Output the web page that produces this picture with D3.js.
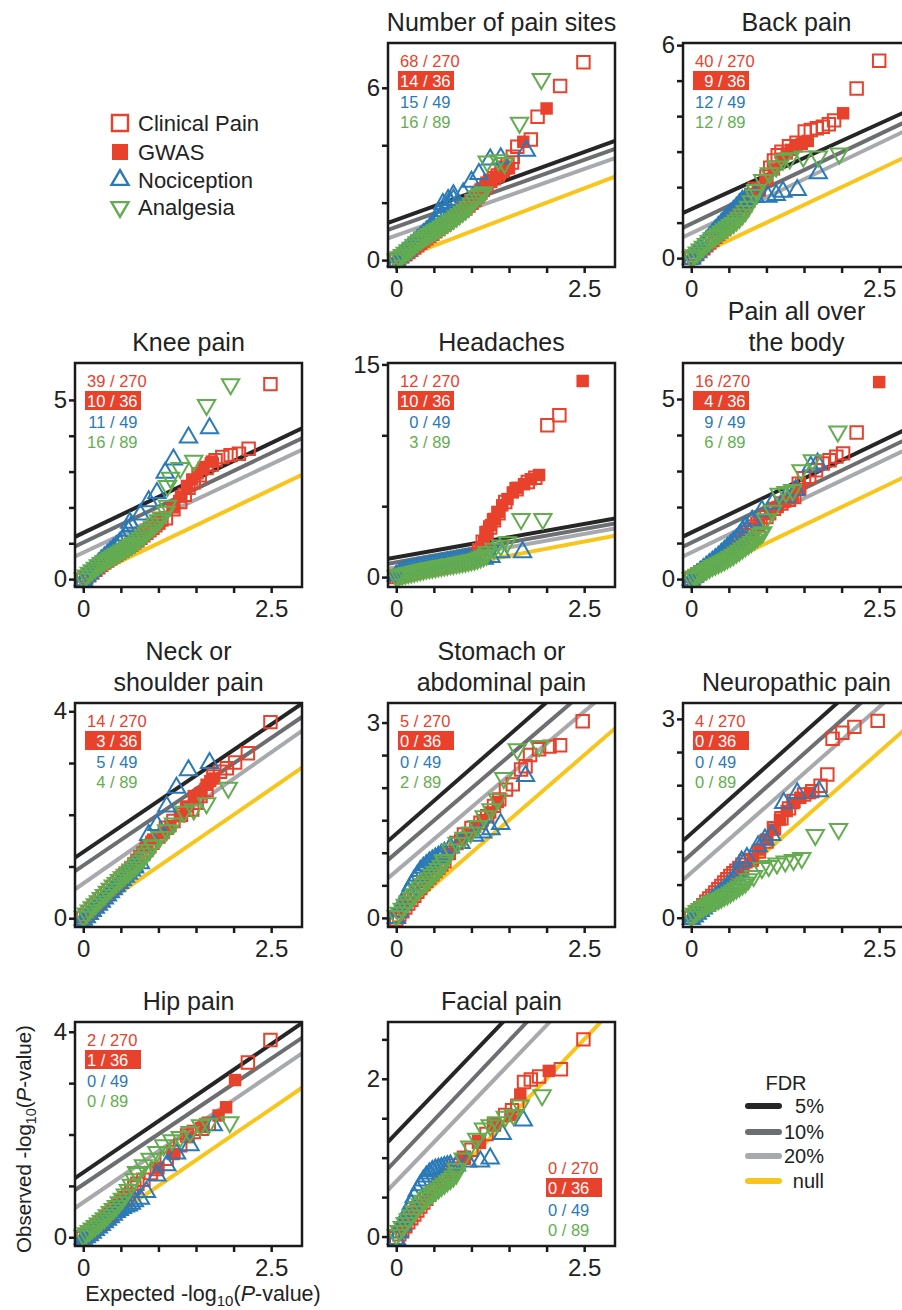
<!DOCTYPE html>
<html>
<head>
<meta charset="utf-8">
<script src="https://cdn.jsdelivr.net/npm/d3@7"></script>
<style>
  body { margin: 0; background: #fff; }
  svg { display: block; font-family: "Liberation Sans", Arial, sans-serif; }
</style>
</head>
<body>
<svg width="902" height="1310"></svg>
<script>
// Panels, in reading order
const panelTitles = [
  ["Number of pain sites"], ["Back pain"], ["Knee pain"], ["Headaches"],
  ["Pain all over", "the body"], ["Neck or", "shoulder pain"], ["Stomach or", "abdominal pain"],
  ["Neuropathic pain"], ["Hip pain"], ["Facial pain"]
];
const panelCell = [[0,1],[0,2],[1,0],[1,1],[1,2],[2,0],[2,1],[2,2],[3,0],[3,1]];

const xDomain = [-0.11, 2.91];
const xTickVals = [0, 0.5, 1, 1.5, 2, 2.5];
const xTickLabels = [0, 2.5];

const yDomains = [[-0.24,7.56],[-0.25,6.06],[-0.22,6.03],[-0.7,15.1],[-0.22,6.0],
                  [-0.17,4.16],[-0.14,3.3],[-0.14,3.24],[-0.17,4.19],[-0.12,2.72]];
const yTickVals = [[0,2,4,6],[0,1,2,3,4,5,6],[0,1,2,3,4,5],[0,5,10,15],[0,1,2,3,4,5],
                   [0,1,2,3,4],[0,0.5,1,1.5,2,2.5,3],[0,0.5,1,1.5,2,2.5,3],[0,1,2,3,4],[0,0.5,1,1.5,2,2.5]];
const yTickLabels = [[0,6],[0,6],[0,5],[0,15],[0,5],[0,4],[0,3],[0,3],[0,4],[0,2]];

// counts shown in each panel
const clinicalLabel = ["68 / 270","40 / 270","39 / 270","12 / 270","16 /270","14 / 270","5 / 270","4 / 270","2 / 270","0 / 270"];
const gwasLabel     = ["14 / 36","9 / 36","10 / 36","10 / 36","4 / 36","3 / 36","0 / 36","0 / 36","1 / 36","0 / 36"];
const nociLabel     = ["15 / 49","12 / 49","11 / 49","0 / 49","9 / 49","5 / 49","0 / 49","0 / 49","0 / 49","0 / 49"];
const analgLabel    = ["16 / 89","12 / 89","16 / 89","3 / 89","6 / 89","4 / 89","2 / 89","0 / 89","0 / 89","0 / 89"];

// FDR threshold lines (end points)
const fdr5 = [[[-0.11,1.30],[2.91,4.15]],[[-0.11,1.27],[2.91,4.18]],[[-0.11,1.18],[2.91,4.21]],[[-0.11,1.29],[2.91,4.13]],
              [[-0.11,1.18],[2.91,4.21]],[[-0.11,1.17],[2.91,4.15]],[[-0.11,1.18],[2.91,4.23]],[[-0.11,1.16],[2.91,4.22]],
              [[-0.11,1.15],[2.91,4.17]],[[-0.11,1.20],[2.91,4.20]]];
const fdr10 = [[[-0.11,1.05],[2.91,3.87]],[[-0.11,0.86],[2.91,3.90]],[[-0.11,0.91],[2.91,3.93]],[[-0.11,0.94],[2.91,3.78]],
               [[-0.11,0.90],[2.91,3.93]],[[-0.11,0.91],[2.91,3.89]],[[-0.11,0.89],[2.91,3.88]],[[-0.11,0.85],[2.91,3.90]],
               [[-0.11,0.92],[2.91,3.88]],[[-0.11,0.86],[2.91,3.90]]];
const fdr20 = [[[-0.11,0.76],[2.91,3.55]],[[-0.11,0.59],[2.91,3.65]],[[-0.11,0.63],[2.91,3.61]],[[-0.11,0.59],[2.91,3.43]],
               [[-0.11,0.63],[2.91,3.65]],[[-0.11,0.56],[2.91,3.62]],[[-0.11,0.61],[2.91,3.57]],[[-0.11,0.57],[2.91,3.59]],
               [[-0.11,0.57],[2.91,3.58]],[[-0.11,0.59],[2.91,3.58]]];
const nullLine = [[0,0],[2.91,2.91]];

// dense lower band: observed values read at these expected values
const bandX = [0,0.04,0.08,0.12,0.16,0.2,0.24,0.28,0.32,0.36,0.4,0.44,0.48,0.52,0.56,0.6,
               0.64,0.68,0.72,0.76,0.8,0.84,0.88,0.92,0.96,1.0,1.04,1.08,1.12,1.16,1.2];
const clinicalBand = [
  [0,0.06,0.13,0.2,0.28,0.36,0.44,0.52,0.6,0.68,0.76,0.84,0.92,1.0,1.08,1.16,1.24,1.32,1.4,1.48,1.56,1.64,1.72,1.8,1.9,2.0,2.1,2.22,2.35],
  [0,0.05,0.12,0.2,0.28,0.36,0.44,0.52,0.6,0.68,0.75,0.82,0.9,0.98,1.06,1.15,1.25,1.36,1.48,1.62,1.78,1.95],
  [-0.02,0.05,0.12,0.19,0.26,0.33,0.4,0.46,0.52,0.58,0.63,0.68,0.74,0.79,0.85,0.9,0.96,1.02,1.08,1.15,1.22,1.29,1.36,1.43,1.5,1.58,1.66],
  [0,0.08,0.15,0.22,0.28,0.33,0.38,0.43,0.48,0.53,0.57,0.61,0.66,0.7,0.74,0.78,0.82,0.86,0.9,0.94,0.98,1.02,1.06,1.1,1.15,1.2,1.3],
  [0,0.06,0.12,0.18,0.24,0.3,0.36,0.42,0.48,0.55,0.62,0.69,0.76,0.83,0.9,0.98,1.06,1.14,1.22,1.3,1.38,1.46,1.54,1.62],
  [0,0.06,0.12,0.18,0.24,0.3,0.36,0.42,0.48,0.54,0.6,0.66,0.72,0.78,0.84,0.9,0.97,1.04,1.11,1.18,1.25,1.32,1.39,1.46],
  [-0.02,0.04,0.1,0.16,0.22,0.28,0.34,0.4,0.46,0.52,0.57,0.62,0.67,0.72,0.77,0.82,0.87],
  [0,0.04,0.09,0.14,0.19,0.24,0.29,0.33,0.38,0.43,0.48,0.53,0.58,0.63,0.67,0.71,0.75,0.8,0.85],
  [-0.02,0.03,0.08,0.13,0.18,0.23,0.28,0.33,0.38,0.44,0.5,0.56,0.62,0.69,0.76,0.83,0.9,0.97,1.04],
  [-0.02,0.03,0.08,0.13,0.18,0.23,0.28,0.33,0.38,0.43,0.48,0.53,0.57,0.61,0.65,0.7,0.74,0.78,0.82,0.86,0.9]
];
const nociBand = [
  [-0.02,0.1,0.2,0.3,0.4,0.5,0.6,0.7,0.8,0.9,1.0,1.1,1.2,1.3,1.42,1.55,1.7,1.85,2.0,2.1],
  [-0.02,0.08,0.18,0.28,0.38,0.48,0.58,0.68,0.78,0.88,0.97,1.06,1.15,1.24,1.33,1.42,1.52,1.6,1.65],
  [-0.03,0.07,0.16,0.25,0.34,0.43,0.52,0.6,0.68,0.76,0.84,0.92,1.0,1.1,1.22,1.35,1.48],
  [0.1,0.25,0.35,0.42,0.48,0.53,0.58,0.62,0.66,0.7,0.74,0.78,0.82,0.86,0.9,0.94,0.98,1.02,1.06,1.1,1.14,1.18,1.22,1.26,1.3],
  [-0.02,0.06,0.13,0.2,0.27,0.34,0.41,0.48,0.55,0.62,0.7,0.78,0.86,0.94,1.02,1.1,1.2,1.32,1.45],
  [-0.03,0.02,0.08,0.14,0.2,0.26,0.32,0.38,0.44,0.5,0.56,0.62,0.68,0.74,0.8,0.86,0.92,0.98],
  [0,0.1,0.2,0.3,0.4,0.5,0.58,0.65,0.72,0.77,0.81,0.85,0.88,0.91,0.94,0.97,1.0],
  [-0.02,0.02,0.06,0.1,0.14,0.18,0.22,0.26,0.3,0.34,0.38,0.42,0.47,0.52,0.57,0.63,0.7],
  [-0.03,0.0,0.04,0.09,0.14,0.19,0.24,0.29,0.34,0.39,0.44,0.49,0.53,0.57,0.6,0.62,0.65,0.7],
  [-0.03,0.05,0.14,0.23,0.32,0.41,0.5,0.58,0.65,0.71,0.76,0.8,0.83,0.85,0.86,0.87,0.88,0.89,0.9]
];
const analgBand = [
  [0.02,0.1,0.18,0.26,0.34,0.43,0.53,0.62,0.7,0.78,0.85,0.91,0.98,1.04,1.1,1.17,1.23,1.3,1.36,1.44,1.52,1.6,1.68,1.76,1.86,1.97,2.1,2.22,2.3],
  [0.02,0.08,0.16,0.24,0.32,0.4,0.48,0.56,0.62,0.69,0.75,0.81,0.87,0.93,0.99,1.06,1.14,1.23,1.33,1.45,1.6,1.78],
  [0.02,0.1,0.18,0.25,0.32,0.39,0.45,0.5,0.55,0.6,0.65,0.7,0.75,0.8,0.85,0.9,0.95,1.01,1.08,1.15,1.22,1.3,1.38,1.46,1.55,1.64,1.72],
  [0.05,0.12,0.18,0.23,0.28,0.33,0.38,0.43,0.48,0.53,0.58,0.62,0.66,0.7,0.74,0.78,0.82,0.86,0.9,0.93,0.97,1.01,1.05,1.09,1.13,1.18,1.23,1.3,1.38,1.47,1.57],
  [0.02,0.07,0.12,0.17,0.22,0.27,0.31,0.36,0.4,0.44,0.48,0.52,0.57,0.62,0.67,0.73,0.79,0.85,0.91,0.97,1.03,1.1,1.17,1.25],
  [0.03,0.09,0.15,0.21,0.27,0.33,0.39,0.45,0.51,0.57,0.63,0.68,0.74,0.79,0.84,0.89,0.94,0.99,1.05,1.11,1.18,1.25,1.32,1.4],
  [0.03,0.08,0.14,0.2,0.25,0.31,0.36,0.42,0.47,0.52,0.56,0.61,0.66,0.7,0.75,0.8,0.85],
  [0.02,0.06,0.1,0.13,0.16,0.19,0.22,0.24,0.26,0.28,0.3,0.33,0.35,0.38,0.41,0.44,0.47,0.5,0.53],
  [0.03,0.08,0.12,0.17,0.22,0.27,0.32,0.37,0.43,0.49,0.55,0.61,0.68,0.75,0.83,0.92,1.02,1.13,1.25],
  [0.02,0.07,0.12,0.17,0.22,0.27,0.32,0.37,0.41,0.45,0.49,0.52,0.55,0.58,0.61,0.64,0.67,0.7,0.73,0.76,0.8]
];

// Clinical pain genes (open squares), upper part
const clinicalPts = [
  [[0.9,1.82],[1.0,2.05],[1.1,2.3],[1.15,2.45],[1.2,2.6],[1.25,2.75],[1.3,2.85],[1.35,2.95],[1.4,3.1],[1.45,3.22],[1.48,3.32],[1.54,3.4],[1.55,3.6],[1.61,3.95],[1.79,4.2],[1.88,4.99],[2.18,6.06],[2.49,6.89]],
  [[0.9,1.95],[1.0,2.3],[1.05,2.55],[1.1,2.75],[1.15,2.9],[1.2,3.0],[1.3,3.15],[1.4,3.25],[1.51,3.57],[1.59,3.61],[1.67,3.66],[1.75,3.7],[1.83,3.77],[1.9,3.88],[2.2,4.78],[2.5,5.56]],
  [[1.1,1.7],[1.2,1.95],[1.29,2.15],[1.35,2.35],[1.4,2.55],[1.47,2.7],[1.55,2.9],[1.64,3.1],[1.71,3.2],[1.76,3.32],[1.85,3.41],[1.96,3.46],[2.07,3.5],[2.2,3.64],[2.49,5.44]],
  [[1.05,1.5],[1.1,1.9],[1.15,2.5],[1.2,3.1],[1.25,3.5],[1.3,4.0],[1.36,4.5],[1.45,5.3],[1.6,6.2],[1.75,6.7],[1.85,7.0],[2.01,10.71],[2.17,11.42]],
  [[1.0,1.72],[1.1,1.95],[1.2,2.1],[1.3,2.2],[1.37,2.28],[1.43,2.65],[1.5,2.8],[1.57,2.84],[1.66,3.02],[1.75,3.21],[1.84,3.3],[1.93,3.4],[2.02,3.49],[2.2,4.07]],
  [[1.0,1.58],[1.1,1.75],[1.2,1.88],[1.3,2.0],[1.38,2.1],[1.45,2.1],[1.51,2.23],[1.56,2.36],[1.64,2.48],[1.73,2.74],[1.82,2.83],[1.91,2.9],[2.02,3.01],[2.19,3.19],[2.49,3.79]],
  [[0.7,1.0],[0.8,1.15],[0.9,1.28],[1.0,1.38],[1.12,1.46],[1.21,1.56],[1.3,1.72],[1.37,1.82],[1.46,1.97],[1.55,2.05],[1.66,2.28],[1.72,2.33],[1.78,2.5],[1.9,2.59],[2.04,2.63],[2.18,2.65],[2.48,3.02]],
  [[0.8,0.87],[0.9,1.0],[1.0,1.15],[1.1,1.35],[1.2,1.5],[1.3,1.65],[1.36,1.76],[1.5,1.86],[1.61,1.91],[1.72,1.99],[1.81,2.16],[1.88,2.7],[2.01,2.79],[2.17,2.88],[2.48,2.97]],
  [[0.8,1.12],[0.9,1.25],[0.98,1.33],[1.11,1.53],[1.2,1.66],[1.29,1.79],[1.38,1.98],[1.47,2.05],[1.58,2.11],[1.67,2.21],[2.19,3.4],[2.49,3.84]],
  [[0.9,1.0],[1.0,1.1],[1.1,1.2],[1.2,1.3],[1.3,1.42],[1.45,1.54],[1.54,1.6],[1.61,1.66],[1.7,1.96],[1.79,1.99],[1.9,2.03],[2.19,2.12],[2.49,2.5]]
];

// GWAS genes (filled squares)
const gwasPts = [
  [[0.9,1.85],[1.05,2.2],[1.12,2.45],[1.2,2.7],[1.27,2.8],[1.33,2.9],[1.38,3.0],[1.43,3.1],[1.5,3.2],[1.69,4.12],[2.0,5.28]],
  [[0.9,1.9],[1.0,2.2],[1.1,2.5],[1.2,2.8],[1.27,2.95],[1.33,3.05],[1.4,3.15],[1.47,3.22],[1.55,3.3],[2.02,4.08]],
  [[0.6,0.95],[0.8,1.22],[1.0,1.55],[1.2,2.0],[1.3,2.3],[1.38,2.6],[1.45,2.78],[1.52,2.95],[1.6,3.1],[1.71,3.28]],
  [[0.9,1.1],[1.0,1.3],[1.08,1.7],[1.13,2.1],[1.17,2.46],[1.21,3.2],[1.26,3.66],[1.3,4.1],[1.35,4.6],[1.41,5.06],[1.48,5.5],[1.55,5.97],[1.61,6.3],[1.7,6.55],[1.79,6.9],[1.9,7.2],[2.48,13.83]],
  [[0.5,0.8],[0.7,1.15],[0.9,1.5],[1.05,1.8],[1.15,2.0],[1.25,2.15],[1.35,2.3],[1.45,2.5],[2.5,5.47]],
  [[0.84,1.39],[0.93,1.52],[1.07,1.65],[1.16,1.78],[1.29,1.97],[1.38,2.16],[1.47,2.36],[1.56,2.42],[1.64,2.58],[1.69,2.65],[1.73,2.7]],
  [[0.7,0.98],[0.85,1.2],[0.95,1.3],[1.05,1.4],[1.15,1.5],[1.25,1.62],[1.35,1.78]],
  [[0.69,0.73],[0.82,0.88],[0.91,1.03],[1.0,1.18],[1.09,1.33],[1.18,1.48],[1.27,1.61],[1.36,1.73],[1.45,1.81],[1.58,1.88]],
  [[1.0,1.35],[1.2,1.62],[1.4,1.95],[1.6,2.15],[1.8,2.37],[1.9,2.53],[2.02,3.06]],
  [[0.9,1.0],[1.1,1.2],[1.3,1.42],[1.52,1.54],[1.65,1.8],[2.03,2.1]]
];

// Nociception genes (triangles), upper part
const nociPts = [
  [[0.56,1.6],[0.62,1.95],[0.69,2.09],[0.76,2.26],[0.89,2.32],[1.0,2.73],[1.1,3.0],[1.25,3.5],[1.39,3.55],[1.73,3.81]],
  [[0.68,1.6],[0.75,1.68],[0.85,1.72],[1.02,1.73],[1.13,1.78],[1.22,1.87],[1.41,1.92],[1.69,2.39]],
  [[0.62,1.57],[0.76,1.8],[0.87,2.17],[0.98,2.4],[1.09,2.97],[1.2,3.34],[1.4,3.95],[1.68,4.21]],
  [[1.0,1.2],[1.1,1.3],[1.17,1.29],[1.26,1.41],[1.39,1.76],[1.68,1.76]],
  [[0.65,1.2],[0.72,1.43],[0.81,1.62],[0.94,1.9],[1.08,2.1],[1.26,2.28],[1.39,2.47],[1.59,3.12],[1.68,3.21]],
  [[0.68,1.0],[0.76,1.06],[0.87,1.61],[0.98,1.8],[1.11,2.16],[1.24,2.52],[1.4,2.86],[1.68,3.0]],
  [[0.72,1.08],[0.86,1.15],[1.04,1.26],[1.15,1.31],[1.26,1.36],[1.39,1.44],[1.72,2.18]],
  [[0.67,0.85],[0.74,0.9],[0.89,1.08],[0.98,1.18],[1.07,1.25],[1.23,1.73],[1.41,1.88],[1.7,1.91]],
  [[0.76,0.75],[0.84,0.88],[0.98,1.2],[1.11,1.4],[1.24,1.63],[1.42,1.79],[1.73,2.18]],
  [[0.8,0.9],[0.95,0.95],[1.12,0.95],[1.25,0.99],[1.41,1.3],[1.69,1.47]]
];

// Analgesia genes (inverted triangles), upper part
const analgPts = [
  [[1.16,2.36],[1.21,3.43],[1.36,3.48],[1.44,3.38],[1.64,4.78],[1.93,6.31]],
  [[0.86,1.92],[0.95,2.2],[1.04,2.39],[1.13,2.58],[1.22,2.77],[1.31,2.81],[1.49,2.86],[1.69,2.86],[1.97,2.95]],
  [[1.1,1.88],[1.12,2.05],[1.12,2.6],[1.16,2.83],[1.29,3.1],[1.47,3.3],[1.64,4.86],[1.96,5.44]],
  [[1.21,1.76],[1.3,1.99],[1.39,2.22],[1.48,2.46],[1.66,4.1],[1.95,4.1]],
  [[0.95,1.3],[0.99,1.66],[1.08,1.9],[1.17,2.37],[1.26,2.42],[1.35,2.47],[1.46,3.02],[1.61,3.3],[1.95,4.1]],
  [[0.93,1.41],[1.02,1.57],[1.11,1.7],[1.2,1.83],[1.34,2.06],[1.47,2.1],[1.64,2.22],[1.93,2.52]],
  [[0.63,0.89],[0.72,1.05],[0.81,1.15],[0.9,1.23],[0.99,1.31],[1.08,1.41],[1.17,1.56],[1.26,1.67],[1.35,1.82],[1.43,2.15],[1.61,2.59],[1.9,2.64]],
  [[0.76,0.58],[0.83,0.63],[0.94,0.75],[1.03,0.78],[1.14,0.82],[1.25,0.85],[1.36,0.87],[1.47,0.9],[1.65,1.25],[1.96,1.34]],
  [[0.71,1.27],[0.8,1.4],[0.89,1.53],[0.98,1.66],[1.07,1.79],[1.18,1.89],[1.29,1.95],[1.42,2.05],[1.56,2.18],[1.67,2.21],[1.95,2.24]],
  [[0.8,0.86],[0.89,0.99],[0.98,1.14],[1.07,1.24],[1.16,1.37],[1.25,1.41],[1.34,1.45],[1.45,1.52],[1.56,1.54],[1.65,1.66],[1.94,1.79]]
];

const legendNames = ["Clinical Pain", "GWAS", "Nociception", "Analgesia"];
const fdrNames = ["5%", "10%", "20%", "null"];

// Mise en page
const svg = d3.select("svg");
const boxW = 227, boxH = 224;
const colLeft = [75, 388, 683];
const rowTop = [43, 363, 703, 1022];
const red = "#e8412c", blue = "#2a7ab8", green = "#63ad50";
const lineColors = ["#262626", "#6d6e71", "#a7a9ac", "#f8c51c"];
const ink = "#1a1a1a";

const square = d3.symbol().type(d3.symbolSquare).size(155);
const triangle = d3.symbol().type(d3.symbolTriangle).size(130);

const withBand = (band, pts) => band.map((v, k) => [bandX[k], v]).concat(pts);

panelTitles.forEach((title, i) => {
  const [r, c] = panelCell[i];
  const g = svg.append("g").attr("transform", `translate(${colLeft[c]},${rowTop[r]})`);
  const x = d3.scaleLinear().domain(xDomain).range([0, boxW]);
  const y = d3.scaleLinear().domain(yDomains[i]).range([boxH, 0]);

  // titre
  title.forEach((t, k) => {
    g.append("text")
      .attr("x", boxW / 2)
      .attr("y", -12 - (title.length - 1 - k) * 31)
      .attr("text-anchor", "middle")
      .attr("font-size", 25)
      .attr("fill", "#222")
      .text(t);
  });

  g.append("clipPath").attr("id", `clip${i}`)
    .append("rect").attr("width", boxW).attr("height", boxH);

  const line = d3.line().x(d => x(d[0])).y(d => y(d[1]));
  const plot = g.append("g").attr("clip-path", `url(#clip${i})`);
  [nullLine, fdr20[i], fdr10[i], fdr5[i]].forEach((pts, k) => {
    plot.append("path")
      .attr("d", line(pts))
      .attr("fill", "none")
      .attr("stroke", lineColors[3 - k])
      .attr("stroke-width", 4);
  });

  // points
  const marks = g.append("g");
  marks.selectAll(".clin").data(withBand(clinicalBand[i], clinicalPts[i])).enter().append("path")
    .attr("transform", d => `translate(${x(d[0])},${y(d[1])})`)
    .attr("d", square).attr("fill", "none").attr("stroke", red).attr("stroke-width", 2);
  marks.selectAll(".gwas").data(gwasPts[i]).enter().append("path")
    .attr("transform", d => `translate(${x(d[0])},${y(d[1])})`)
    .attr("d", square).attr("fill", red);
  marks.selectAll(".noci").data(withBand(nociBand[i], nociPts[i])).enter().append("path")
    .attr("transform", d => `translate(${x(d[0])},${y(d[1])})`)
    .attr("d", triangle).attr("fill", "none").attr("stroke", blue).attr("stroke-width", 2);
  marks.selectAll(".analg").data(withBand(analgBand[i], analgPts[i])).enter().append("path")
    .attr("transform", d => `translate(${x(d[0])},${y(d[1])}) rotate(180)`)
    .attr("d", triangle).attr("fill", "none").attr("stroke", green).attr("stroke-width", 2);

  // axes
  const styleAxis = a => {
    a.attr("font-size", null).attr("font-family", null);
    a.select(".domain").remove();
    a.selectAll("line").attr("stroke", ink).attr("stroke-width", 2.5);
    a.selectAll("text").attr("font-size", 24).attr("fill", "#222");
  };
  g.append("g")
    .call(d3.axisLeft(y).tickValues(yTickVals[i]).tickSize(6).tickPadding(2)
      .tickFormat(d => yTickLabels[i].includes(d) ? d : ""))
    .call(styleAxis);
  g.append("g").attr("transform", `translate(0,${boxH})`)
    .call(d3.axisBottom(x).tickValues(xTickVals).tickSize(6).tickPadding(7)
      .tickFormat(d => xTickLabels.includes(d) ? d : ""))
    .call(styleAxis);

  g.append("rect").attr("width", boxW).attr("height", boxH)
    .attr("fill", "none").attr("stroke", ink).attr("stroke-width", 2.5);

  // compteurs
  const labels = [clinicalLabel[i], gwasLabel[i], nociLabel[i], analgLabel[i]];
  const colors = [red, "#fff", blue, green];
  const bottomRight = i === 9;
  const startX = bottomRight ? 160 : 12;
  const rowsY = bottomRight ? [146, 166, 188, 208] : [18, 38, 59, 79];
  const nums = labels.map(s => s.split(" ")[0]);
  const maxDigits = d3.max(nums, n => n.length);
  const numX = startX + maxDigits * 9.2;

  g.append("rect")
    .attr("x", startX - 2).attr("y", rowsY[1] - 10)
    .attr("width", 56).attr("height", 19)
    .attr("fill", red);

  labels.forEach((s, k) => {
    g.append("text").attr("x", numX).attr("y", rowsY[k] + 6)
      .attr("text-anchor", "end").attr("font-size", 16.5).attr("fill", colors[k])
      .text(nums[k]);
    g.append("text").attr("x", numX).attr("y", rowsY[k] + 6)
      .attr("font-size", 16.5).attr("fill", colors[k])
      .text(s.slice(nums[k].length).replace(/ /g, "\u00a0"));
  });
});

// Légende des symboles
const legend = svg.append("g");
const legendY = [123, 152, 180, 207];
const bigSquare = d3.symbol().type(d3.symbolSquare).size(256);
const bigTriangle = d3.symbol().type(d3.symbolTriangle).size(125);
legendNames.forEach((name, k) => {
  const m = legend.append("path")
    .attr("transform", `translate(120,${legendY[k]})${k === 3 ? " rotate(180)" : ""}`);
  if (k === 0) m.attr("d", bigSquare).attr("fill", "none").attr("stroke", red).attr("stroke-width", 2.4);
  if (k === 1) m.attr("d", bigSquare).attr("fill", red);
  if (k === 2) m.attr("d", bigTriangle).attr("fill", "none").attr("stroke", blue).attr("stroke-width", 2.4);
  if (k === 3) m.attr("d", bigTriangle).attr("fill", "none").attr("stroke", green).attr("stroke-width", 2.4);
  legend.append("text").attr("x", 138).attr("y", legendY[k] + 8)
    .attr("font-size", 22).attr("fill", "#222").text(name);
});

// Légende FDR
const fdrLegend = svg.append("g");
fdrLegend.append("text").attr("x", 786).attr("y", 1090)
  .attr("text-anchor", "middle").attr("font-size", 20).attr("fill", "#222").text("FDR");
const fdrY = [1106, 1132, 1156, 1181];
fdrNames.forEach((name, k) => {
  fdrLegend.append("line")
    .attr("x1", 748).attr("x2", 779).attr("y1", fdrY[k]).attr("y2", fdrY[k])
    .attr("stroke", lineColors[k]).attr("stroke-width", 6).attr("stroke-linecap", "round");
  fdrLegend.append("text").attr("x", 824).attr("y", fdrY[k] + 7)
    .attr("text-anchor", "end").attr("font-size", 20).attr("fill", "#222").text(name);
});

// Titres des axes
function axisTitle(sel, first) {
  sel.append("tspan").text(first + " -log");
  sel.append("tspan").attr("font-size", "70%").attr("dy", 5).text("10");
  sel.append("tspan").attr("dy", -5).text("(");
  sel.append("tspan").attr("font-style", "italic").text("P");
  sel.append("tspan").text("-value)");
}
svg.append("text")
  .attr("transform", "translate(31,1139) rotate(-90)")
  .attr("text-anchor", "middle").attr("font-size", 20.5).attr("fill", "#222")
  .call(axisTitle, "Observed");
svg.append("text")
  .attr("x", 203).attr("y", 1301)
  .attr("text-anchor", "middle").attr("font-size", 21.5).attr("fill", "#222")
  .call(axisTitle, "Expected");
</script>
</body>
</html>
